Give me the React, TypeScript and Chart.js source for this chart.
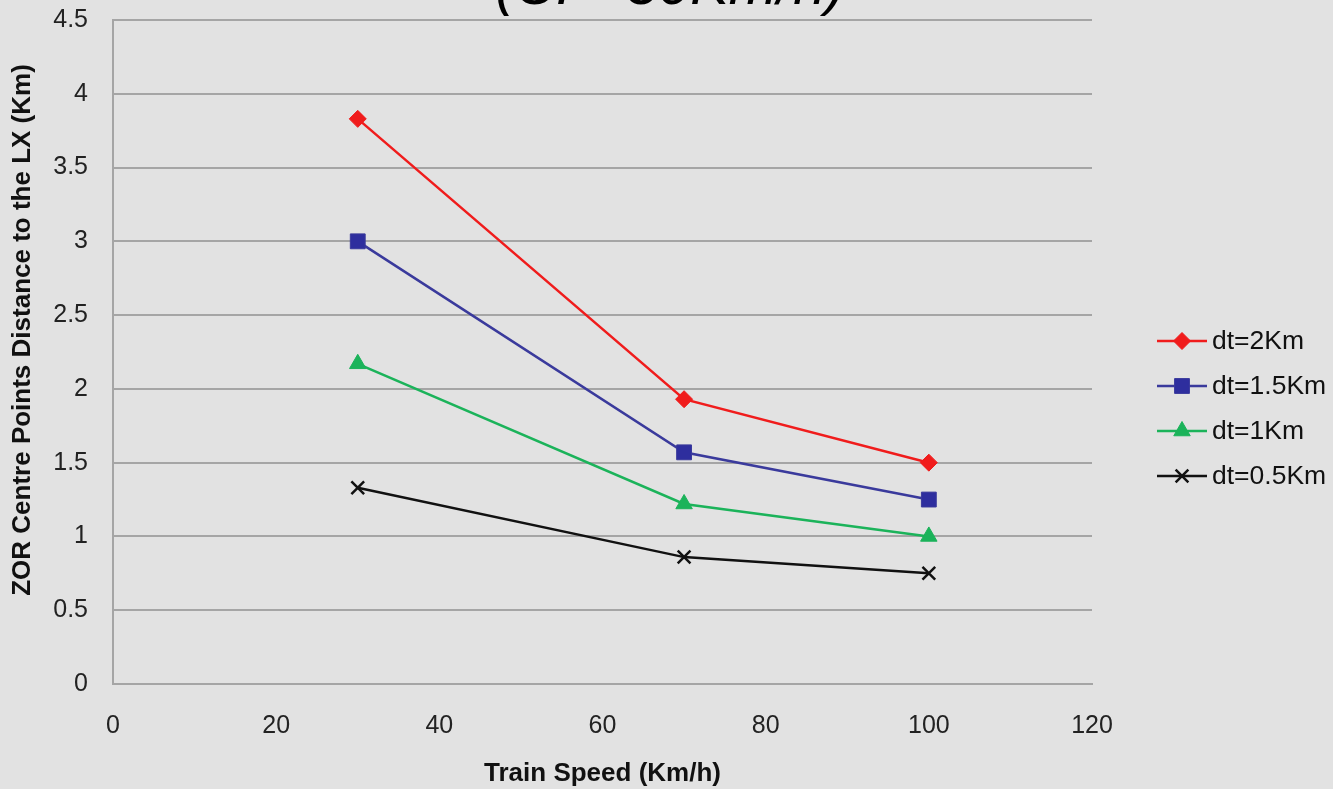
import React, { useEffect, useRef } from 'react';
import { Chart, registerables } from 'chart.js';
import { drawPoint } from 'chart.js/helpers';

Chart.register(...registerables);

const speeds = [30, 70, 100];
const dt2 = [3.83, 1.93, 1.5];
const dt15 = [3.0, 1.57, 1.25];
const dt1 = [2.17, 1.22, 1.0];
const dt05 = [1.33, 0.86, 0.75];
const seriesLabels = ['dt=2Km', 'dt=1.5Km', 'dt=1Km', 'dt=0.5Km'];
const titleText = '(CF=30Km/h)';
const xTitle = 'Train Speed (Km/h)';
const yTitle = 'ZOR Centre Points Distance to the LX (Km)';

const FONT = '"Liberation Sans", Arial, sans-serif';
const BG = '#e2e2e2';

const bgPlugin = {
  id: 'bg',
  beforeDraw(chart: any) {
    const { ctx, width, height } = chart;
    ctx.save();
    ctx.fillStyle = BG;
    ctx.fillRect(0, 0, width, height);
    ctx.restore();
  },
};

const textPlugin = {
  id: 'extraText',
  afterDraw(chart: any) {
    const { ctx } = chart;
    ctx.save();
    ctx.font = `italic 58px ${FONT}`;
    ctx.fillStyle = '#000';
    ctx.textAlign = 'center';
    ctx.textBaseline = 'alphabetic';
    ctx.fillText(titleText, 670, 4);
    ctx.translate(23, 330);
    ctx.rotate(-Math.PI / 2);
    ctx.font = `bold 26px ${FONT}`;
    ctx.fillStyle = '#111';
    ctx.textBaseline = 'middle';
    ctx.fillText(yTitle, 0, 0);
    ctx.restore();
  },
};

const legendPlugin = {
  id: 'sideLegend',
  afterDraw(chart: any) {
    const { ctx } = chart;
    const ds = chart.data.datasets;
    ctx.save();
    ds.forEach((d: any, i: number) => {
      const y = 341 + i * 45;
      ctx.strokeStyle = d.borderColor;
      ctx.lineWidth = 2.5;
      ctx.beginPath();
      ctx.moveTo(1157, y);
      ctx.lineTo(1207, y);
      ctx.stroke();
      ctx.fillStyle = d.pointBackgroundColor;
      ctx.strokeStyle = d.pointBorderColor;
      ctx.lineWidth = d.pointBorderWidth;
      drawPoint(ctx, { pointStyle: d.pointStyle, radius: d.pointRadius, rotation: 0, borderWidth: d.pointBorderWidth }, 1182, y);
      ctx.fillStyle = '#111';
      ctx.font = `26.5px ${FONT}`;
      ctx.textAlign = 'left';
      ctx.textBaseline = 'middle';
      ctx.fillText(d.label, 1212, y + 1);
    });
    ctx.restore();
  },
};

function mk(label: string, vals: number[], color: string, style: string, radius: number, bw: number, fill?: string) {
  return {
    label,
    data: speeds.map((x, i) => ({ x, y: vals[i] })),
    borderColor: color,
    borderWidth: 2.5,
    pointStyle: style,
    pointRadius: radius,
    pointBackgroundColor: fill ?? color,
    pointBorderColor: color,
    pointBorderWidth: bw,
    tension: 0,
    fill: false,
  };
}

export default function App() {
  const ref = useRef<HTMLCanvasElement>(null);
  useEffect(() => {
    document.body.style.margin = '0';
    document.body.style.background = BG;
    const chart = new Chart(ref.current!, {
      type: 'line',
      data: {
        datasets: [
          mk(seriesLabels[0], dt2, '#f01c1c', 'rectRot', 8.5, 1),
          mk(seriesLabels[1], dt15, '#3a3a9c', 'rect', 10.5, 1, '#2e2e9e'),
          mk(seriesLabels[2], dt1, '#1bb35a', 'triangle', 9.5, 1),
          mk(seriesLabels[3], dt05, '#111111', 'crossRot', 9, 2.5),
        ],
      },
      options: {
        animation: false,
        responsive: false,
        layout: { padding: { left: 0, top: 20, right: 241, bottom: 0 } },
        plugins: { legend: { display: false }, tooltip: { enabled: false }, title: { display: false } },
        scales: {
          x: {
            type: 'linear',
            min: 0,
            max: 120,
            ticks: { stepSize: 20, color: '#222', font: { family: FONT, size: 25 }, padding: 27 },
            grid: { display: false, drawTicks: false },
            border: { display: true, color: '#a5a5a5', width: 2 },
            title: { display: true, text: xTitle, color: '#111', font: { family: FONT, size: 26, weight: 'bold' }, padding: { top: 0, bottom: 0 } },
            afterFit(s: any) { s.height = 105; s.paddingLeft = 0; s.paddingRight = 0; },
          },
          y: {
            type: 'linear',
            min: 0,
            max: 4.5,
            ticks: {
              stepSize: 0.5,
              color: '#222',
              font: { family: FONT, size: 25 },
              padding: 25,
              callback: (v: any) => String(Number(Number(v).toFixed(1))),
            },
            grid: { color: '#a5a5a5', lineWidth: 2, drawTicks: false },
            border: { display: true, color: '#a5a5a5', width: 2 },
            title: { display: false },
            afterFit(s: any) { s.width = 113; s.paddingTop = 0; s.paddingBottom = 0; },
          },
        },
      },
      plugins: [bgPlugin, textPlugin, legendPlugin],
    } as any);
    return () => chart.destroy();
  }, []);
  return (
    <div style={{ position: 'absolute', left: 0, top: 0 }}>
      <canvas ref={ref} width={1333} height={789} style={{ width: '1333px', height: '789px', display: 'block' }} />
    </div>
  );
}
